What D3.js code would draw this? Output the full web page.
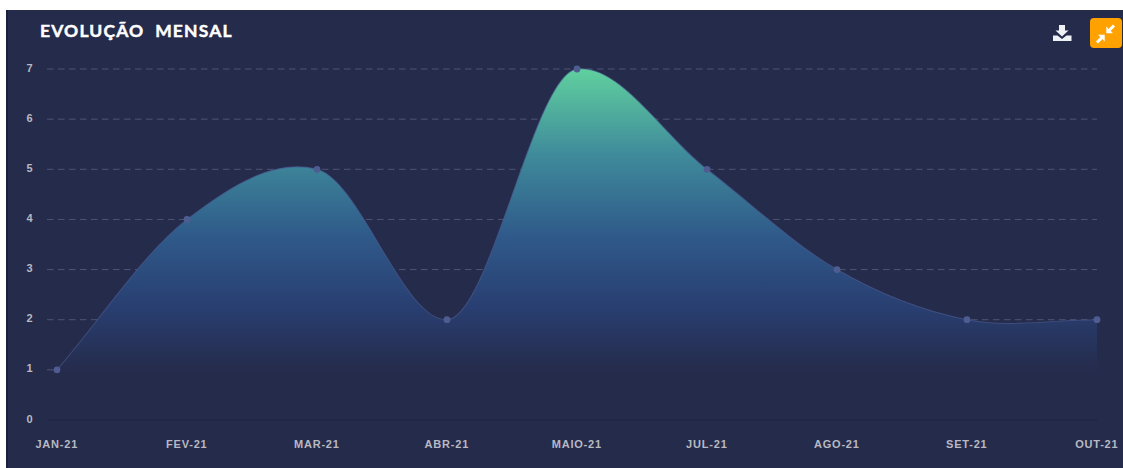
<!DOCTYPE html>
<html><head><meta charset="utf-8">
<style>html,body{margin:0;padding:0;background:#fff;overflow:hidden}svg{display:block}</style>
<script src="https://cdn.jsdelivr.net/npm/d3@7/dist/d3.min.js"></script>
</head><body><svg id="c" width="1123" height="468"></svg>
<script>
const months = ["JAN-21","FEV-21","MAR-21","ABR-21","MAIO-21","JUL-21","AGO-21","SET-21","OUT-21"];
const values = [1,4,5,2,7,5,3,2,2];
const yTicks = [0,1,2,3,4,5,6,7];
const title = "EVOLUÇÃO  MENSAL";

const svg = d3.select("#c");
const defs = svg.append("defs");
const grad = defs.append("linearGradient").attr("id","g").attr("gradientUnits","userSpaceOnUse")
  .attr("x1",0).attr("x2",0).attr("y1",69).attr("y2",372);
[[0,"#60d09e"],[0.28,"#3f8b9b"],[0.55,"#2f5a8a"],[0.78,"#293f72"],[1,"#252b4b"]]
 .forEach(([o,c])=>grad.append("stop").attr("offset",o).attr("stop-color",c));

svg.append("rect").attr("x",6).attr("y",10).attr("width",1117).attr("height",458).attr("fill","#252b4b");
svg.append("rect").attr("x",6).attr("y",10).attr("width",2).attr("height",458).attr("fill","#1b2040");

const x = d3.scalePoint().domain(months).range([57,1097]);
const y = d3.scaleLinear().domain([0,7]).range([420,69]);
const pts = months.map((m,i)=>[x(m),y(values[i])]);

// grid
svg.append("g").selectAll("line").data(yTicks.filter(d=>d>0)).join("line")
  .attr("x1",47).attr("x2",1097).attr("y1",d=>y(d)).attr("y2",d=>y(d))
  .attr("stroke","#4e5574").attr("stroke-width",1).attr("stroke-dasharray","6.5 4.5");

// Smoothing: cubic Hermite, tangents softened at local extremes.
const unit = y(0)-y(1);
function smooth(ctx){
  let p=[], line=NaN;
  return {
    areaStart(){line=0}, areaEnd(){line=NaN},
    lineStart(){p=[]},
    point(a,b){p.push([a,b])},
    lineEnd(){
      const n=p.length;
      const d=i=>(p[i][1]-p[i+1][1])/unit;   // rise per step, in value units
      const s=p.map((_,i)=>{
        if(i===0) return d(0);
        if(i===n-1) return d(n-2);
        const l=d(i-1), r=d(i);
        if(l*r<0) return Math.sign(l+r)*Math.abs(l+r)/Math.abs(l*r);
        return (l+r)/2;
      });
      p.forEach((q,i)=>{
        if(i===0){ line ? ctx.lineTo(q[0],q[1]) : ctx.moveTo(q[0],q[1]); return; }
        const o=p[i-1], h=(q[0]-o[0])/3;
        const sgn=h>=0?1:-1;
        ctx.bezierCurveTo(o[0]+h,o[1]-sgn*s[i-1]*unit/3,q[0]-h,q[1]+sgn*s[i]*unit/3,q[0],q[1]);
      });
      if(line) ctx.closePath();
      line=1-line;
    }
  };
}
svg.append("path").datum(pts).attr("fill","url(#g)")
  .attr("d",d3.area().x(d=>d[0]).y0(y(0)).y1(d=>d[1]).curve(smooth));
svg.append("path").datum(pts).attr("fill","none").attr("stroke","#4a5a90").attr("stroke-opacity",0.65).attr("stroke-width",1.1)
  .attr("d",d3.line().curve(smooth));
svg.append("g").selectAll("circle").data(pts).join("circle")
  .attr("cx",d=>d[0]).attr("cy",d=>d[1]).attr("r",3.4).attr("fill","#4f5c91");

// axes
const ax = svg.append("g").attr("transform","translate(-0.7,420)")
  .call(d3.axisBottom(x).tickSize(0).tickPadding(20));
ax.select(".domain").attr("d","M47.7,0H1097.7").attr("stroke","#1f2442").attr("stroke-width",1);
const ay = svg.append("g").attr("transform","translate(33.5,-1.5)")
  .call(d3.axisLeft(y).tickValues(yTicks).tickFormat(d3.format("d")).tickSize(0).tickPadding(0));
ay.select(".domain").remove();
svg.selectAll(".tick text").attr("fill","#b8b9c2")
  .attr("font-family","'Liberation Sans',Arial,sans-serif").attr("font-weight",700)
  .attr("font-size",11).attr("letter-spacing",0.8);

svg.append("text").attr("x",40).attr("y",37).text(title)
  .style("white-space","pre")
  .attr("fill","#fff").attr("stroke","#fff").attr("stroke-width",0.45)
  .attr("font-family","Lato,sans-serif").attr("font-weight",700)
  .attr("font-size",17.5).attr("letter-spacing",1.15);

// toolbar icons
const dl = svg.append("g").attr("transform","translate(1053,24)").attr("fill","#eef1f5");
dl.append("path").attr("d","M6 1H12V6.5H15.5L9 12.5L2.5 6.5H6Z");
dl.append("path").attr("d","M0 11.5H4.5L9 15L13.5 11.5H18.5V17H0Z");
svg.append("rect").attr("x",1090).attr("y",18).attr("width",32).attr("height",30).attr("rx",4).attr("fill","#ffa200");
const ic = svg.append("g").attr("transform","translate(1105.5,34)");
[0,180].forEach(r=>{
  const g=ic.append("g").attr("transform",`rotate(${r})`);
  g.append("path").attr("d","M0.8,-0.8 L0.8,-7.5 L7.5,-0.8 Z").attr("fill","#fff");
  g.append("line").attr("x1",3).attr("y1",-3).attr("x2",8.5).attr("y2",-8.5).attr("stroke","#fff").attr("stroke-width",3);
});
</script></body></html>
